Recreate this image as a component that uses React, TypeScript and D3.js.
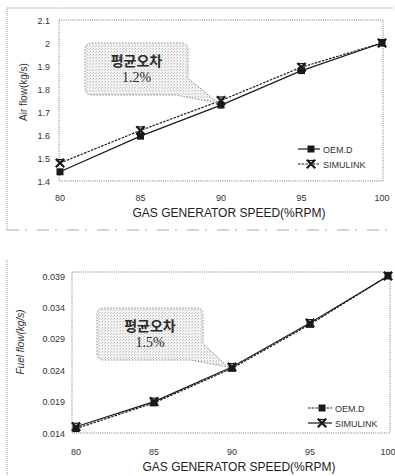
import React from "react";
import * as d3 from "d3";

// gas generator speed (%RPM)
const speeds = [80, 85, 90, 95, 100];

// top chart: air flow (kg/s)
const airOem = [1.44, 1.595, 1.73, 1.88, 2.0];
const airSim = [1.478, 1.62, 1.75, 1.895, 2.0];
const airTicks = [1.4, 1.5, 1.6, 1.7, 1.8, 1.9, 2, 2.1];

// bottom chart: fuel flow (kg/s)
const fuelOem = [0.0147, 0.0188, 0.0243, 0.0313, 0.039];
const fuelSim = [0.015, 0.019, 0.0245, 0.0315, 0.039];
const fuelTicks = [0.014, 0.019, 0.024, 0.029, 0.034, 0.039];

const seriesNames = ["OEM.D", "SIMULINK"];

const INK = "#1a1a1a";
const GREY = "#777";
const SANS = "Liberation Sans, Arial, sans-serif";

type ChartProps = {
  oem: number[];
  sim: number[];
  yTicks: number[];
  yDomain: [number, number];
  yRange: [number, number];
  xRange: [number, number];
  frame: { x0: number; x1: number; y0: number; y1: number };
  tickX: number;
  xLabelY: number;
  titleY: number;
  yTitle: string;
  yTitlePos: [number, number];
  yTitleItalic?: boolean;
  fmt: (v: number) => string;
  legend: { x: number; y: number; len: number };
  oemDashed: boolean;
  bubble: { x: number; y: number; w: number; h: number; tip: [number, number]; text: string };
};

const Marker = ({ kind, x, y }: { kind: "square" | "times"; x: number; y: number }) => {
  if (kind === "square") {
    return <rect x={x - 3.5} y={y - 3.5} width={7} height={7} fill={INK} />;
  }
  const p = d3.symbol().type(d3.symbolTimes).size(48)();
  return (
    <g transform={`translate(${x},${y})`}>
      <path d={p || ""} stroke={INK} strokeWidth={2.2} fill="none" />
      <line x1={-3.5} x2={3.5} y1={-3.5} y2={-3.5} stroke={INK} strokeWidth={1.2} />
    </g>
  );
};

const Bubble = ({ x, y, w, h, tip, text }: ChartProps["bubble"]) => {
  const r = 7;
  const x1 = x + w;
  const y1 = y + h;
  // rounded box with a tail leaving the lower right corner
  const d = [
    `M${x + r},${y}`,
    `H${x1 - r}`,
    `Q${x1},${y} ${x1},${y + r}`,
    `V${y + h * 0.68}`,
    `L${tip[0]},${tip[1]}`,
    `L${x1 - 12},${y1}`,
    `H${x + r}`,
    `Q${x},${y1} ${x},${y1 - r}`,
    `V${y + r}`,
    `Q${x},${y} ${x + r},${y}`,
    "Z",
  ].join(" ");
  const cx = x + w / 2;
  return (
    <g>
      <path d={d} fill="url(#speckle)" stroke="#8a8a8a" strokeWidth={1} strokeDasharray="1.5,1.5" />
      <text x={cx} y={y + 23} textAnchor="middle" fontFamily="Noto Sans CJK KR" fontWeight={700} fontSize={14} fill="#2a2a2a">
        평균오차
      </text>
      <text x={cx} y={y + 39} textAnchor="middle" fontFamily="Liberation Serif, serif" fontSize={14} fill="#2a2a2a">
        {text}
      </text>
    </g>
  );
};

const Chart = (p: ChartProps) => {
  const x = d3.scaleLinear().domain([80, 100]).range(p.xRange);
  const y = d3.scaleLinear().domain(p.yDomain).range(p.yRange);
  const line = d3
    .line<number>()
    .x((_, i) => x(speeds[i]))
    .y((v) => y(v));
  const { x0, x1, y0, y1 } = p.frame;
  const oemDash = p.oemDashed ? "2.5,1.2" : undefined;
  const simDash = p.oemDashed ? undefined : "2.5,1.2";
  return (
    <g>
      <rect x={x0} y={y0} width={x1 - x0} height={y1 - y0} fill="none" stroke={GREY} strokeWidth={1} strokeDasharray="1,1.2" />
      {p.yTicks.map((t) => (
        <text key={t} x={p.tickX} y={y(t) + 3.5} textAnchor="end" fontFamily={SANS} fontSize={9} fill="#333">
          {p.fmt(t)}
        </text>
      ))}
      {speeds.map((s) => (
        <text key={s} x={x(s)} y={p.xLabelY} textAnchor="middle" fontFamily={SANS} fontSize={9} fill="#333">
          {s}
        </text>
      ))}
      <text x={(x0 + x1) / 2 + 8} y={p.titleY} textAnchor="middle" fontFamily={SANS} fontSize={12} fill="#222">
        GAS GENERATOR SPEED(%RPM)
      </text>
      <text
        transform={`translate(${p.yTitlePos[0]},${p.yTitlePos[1]}) rotate(-90)`}
        textAnchor="middle"
        fontFamily={SANS}
        fontStyle={p.yTitleItalic ? "italic" : "normal"}
        fontSize={10}
        fill="#333"
      >
        {p.yTitle}
      </text>

      <path d={line(p.sim) || ""} fill="none" stroke={INK} strokeWidth={1.2} strokeDasharray={simDash} />
      <path d={line(p.oem) || ""} fill="none" stroke={INK} strokeWidth={1.2} strokeDasharray={oemDash} />
      {p.oem.map((v, i) => (
        <Marker key={"o" + i} kind="square" x={x(speeds[i])} y={y(v)} />
      ))}
      {p.sim.map((v, i) => (
        <Marker key={"s" + i} kind="times" x={x(speeds[i])} y={y(v)} />
      ))}

      <Bubble {...p.bubble} />

      {seriesNames.map((name, i) => {
        const ly = p.legend.y + i * 15;
        const dashed = i === 0 ? oemDash : simDash;
        return (
          <g key={name}>
            <line x1={p.legend.x} x2={p.legend.x + p.legend.len} y1={ly} y2={ly} stroke={INK} strokeWidth={1.2} strokeDasharray={dashed} />
            <Marker kind={i === 0 ? "square" : "times"} x={p.legend.x + p.legend.len / 2 + 2} y={ly} />
            <text x={p.legend.x + p.legend.len + 3} y={ly + 3.5} fontFamily={SANS} fontSize={9} fill="#333">
              {name}
            </text>
          </g>
        );
      })}
    </g>
  );
};

export default function App() {
  return (
    <svg width={395} height={476} style={{ position: "absolute", left: 0, top: 0, background: "#fff" }}>
      <defs>
        <pattern id="speckle" width={3} height={3} patternUnits="userSpaceOnUse">
          <rect width={3} height={3} fill="#f3f3f3" />
          <rect x={0} y={0} width={1} height={1} fill="#bdbdbd" />
          <rect x={2} y={1} width={1} height={1} fill="#d0d0d0" />
        </pattern>
      </defs>

      {/* outer frames */}
      <path d="M7,230 V8 H395" fill="none" stroke="#999" strokeWidth={1} strokeDasharray="1,1" />
      <path d="M7,230 H395" fill="none" stroke="#aaa" strokeWidth={1} strokeDasharray="12,6,2,10" />
      <path d="M7,260 V476" fill="none" stroke="#999" strokeWidth={1} strokeDasharray="1,1" />

      <Chart
        oem={airOem}
        sim={airSim}
        yTicks={airTicks}
        yDomain={[1.4, 2.1]}
        yRange={[181, 20]}
        xRange={[60, 382]}
        frame={{ x0: 59, x1: 383, y0: 20, y1: 181 }}
        tickX={50}
        xLabelY={201}
        titleY={217}
        yTitle="Air flow(kg/s)"
        yTitlePos={[27, 92]}
        fmt={(v) => String(v)}
        legend={{ x: 298, y: 149, len: 22 }}
        oemDashed={false}
        bubble={{ x: 85, y: 43, w: 103, h: 52, tip: [218, 103], text: "1.2%" }}
      />

      <Chart
        oem={fuelOem}
        sim={fuelSim}
        yTicks={fuelTicks}
        yDomain={[0.014, 0.039]}
        yRange={[433, 276]}
        xRange={[76, 388]}
        frame={{ x0: 72, x1: 390, y0: 272, y1: 433 }}
        tickX={65}
        xLabelY={455}
        titleY={471}
        yTitle="Fuel flow(kg/s)"
        yTitlePos={[24, 342]}
        yTitleItalic
        fmt={(v) => d3.format(".3f")(v)}
        legend={{ x: 308, y: 408, len: 24 }}
        oemDashed={true}
        bubble={{ x: 97, y: 308, w: 106, h: 52, tip: [228, 367], text: "1.5%" }}
      />
    </svg>
  );
}
